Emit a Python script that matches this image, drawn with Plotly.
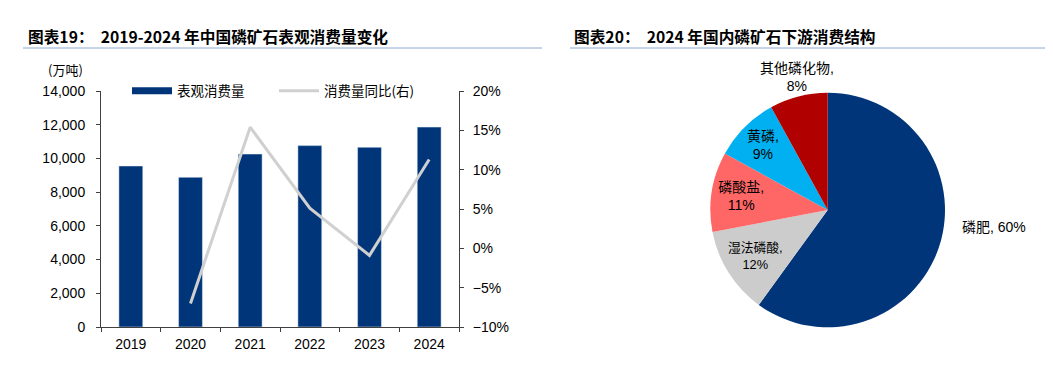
import plotly.graph_objects as go

years = ["2019", "2020", "2021", "2022", "2023", "2024"]
consumption = [9550, 8880, 10260, 10760, 10660, 11860]
yoy_years = ["2020", "2021", "2022", "2023", "2024"]
yoy = [-7.0, 15.4, 5.1, -0.9, 11.3]

pie_labels = ["磷肥", "湿法磷酸", "磷酸盐", "黄磷", "其他磷化物"]
pie_values = [60, 12, 11, 9, 8]
pie_colors = ["#003679", "#cccccc", "#ff6666", "#00b0f0", "#b00000"]

FONT = "Liberation Sans, Arial, Noto Sans CJK SC"
CJK = "Noto Sans CJK SC"

# the page draws the figure offset by (8, 15), 1053 wide and 350 tall
OX, OY, PW, PH = 8, 15, 1053, 350
def fx(px):
    return (px - OX) / PW
def fy(py):
    return 1 - (py - OY) / PH

fig = go.Figure()
fig.add_trace(go.Bar(x=years, y=consumption, name="表观消费量", marker_color="#003679",
                     xaxis="x", yaxis="y", showlegend=False))
fig.add_trace(go.Scatter(x=[None], y=[None], name="表观消费量", mode="lines",
                         line=dict(color="#003679", width=7), xaxis="x", yaxis="y"))
fig.add_trace(go.Scatter(x=yoy_years, y=yoy, name="消费量同比(右)", mode="lines",
                         line=dict(color="#d0d0d0", width=3), xaxis="x", yaxis="y2"))
fig.add_trace(go.Pie(labels=pie_labels, values=pie_values, sort=False, direction="clockwise",
                     rotation=0, marker=dict(colors=pie_colors, line=dict(width=0)),
                     texttemplate=[""] + ["%{label},<br>%{percent:.0%}"] * 3 + [""],
                     textposition="inside",
                     insidetextorientation="horizontal",
                     textfont=dict(family=FONT, size=14, color="#000000"),
                     domain=dict(x=[fx(710.4), fx(945.0)], y=[fy(326.3), fy(91.7)]),
                     showlegend=False, hoverinfo="label+percent"))

fig.update_layout(
    width=1053, height=366, margin=dict(l=0, r=0, t=0, b=0),
    paper_bgcolor="white", plot_bgcolor="white",
    font=dict(family=FONT, size=14, color="#000000"),
    bargap=0.6,
    xaxis=dict(domain=[fx(101), fx(459)], showline=True, linecolor="#404040", linewidth=1,
               ticks="outside", tickson="boundaries", ticklen=4, tickcolor="#404040",
               showgrid=False, anchor="y", tickfont=dict(size=14), ticklabelstandoff=4),
    yaxis=dict(domain=[fy(326), fy(90)], range=[0, 14000], dtick=2000, tickformat=",",
               showline=True, linecolor="#404040", linewidth=1, ticks="outside", ticklen=4,
               tickcolor="#404040", showgrid=False, zeroline=False, anchor="x",
               tickfont=dict(size=14), ticklabelstandoff=8),
    yaxis2=dict(overlaying="y", side="right", anchor="x", range=[-10, 20], dtick=5,
                ticksuffix="%", showline=True, linecolor="#404040", linewidth=1,
                ticks="outside", ticklen=4, tickcolor="#404040", showgrid=False,
                zeroline=False, tickfont=dict(size=14), ticklabelstandoff=6),
    legend=dict(orientation="h", x=fx(127), y=fy(90), xanchor="left", yanchor="middle",
                bgcolor="rgba(0,0,0,0)", font=dict(family=CJK, size=13.5),
                itemwidth=40, entrywidth=92, tracegroupgap=0),
)

annotations = [
    dict(text="<b>图表19：  2019-2024 年中国磷矿石表观消费量变化</b>", x=fx(26), y=fy(35),
         xanchor="left", yanchor="middle", font=dict(family=CJK, size=15.7, color="#000000")),
    dict(text="<b>图表20：  2024 年国内磷矿石下游消费结构</b>", x=fx(572), y=fy(35),
         xanchor="left", yanchor="middle", font=dict(family=CJK, size=15.7, color="#000000")),
    dict(text="(万吨)", x=fx(46), y=fy(69), xanchor="left", yanchor="middle",
         font=dict(family=CJK, size=13, color="#000000")),
    dict(text=f"{pie_labels[4]},<br>{pie_values[4]}%", x=fx(797), y=fy(76),
         xanchor="center", yanchor="middle", font=dict(family=FONT, size=14, color="#000000")),
    dict(text=f"{pie_labels[0]}, {pie_values[0]}%", x=fx(960), y=fy(226),
         xanchor="left", yanchor="middle", font=dict(family=FONT, size=14, color="#000000")),
]
for a in annotations:
    a.update(xref="paper", yref="paper", showarrow=False)
fig.update_layout(annotations=annotations)

fig.update_layout(shapes=[
    dict(type="line", xref="paper", yref="paper", x0=fx(23), x1=fx(542), y0=fy(47),
         y1=fy(47), line=dict(color="#8eaacc", width=1)),
    dict(type="line", xref="paper", yref="paper", x0=fx(570), x1=1.0, y0=fy(47),
         y1=fy(47), line=dict(color="#8eaacc", width=1)),
])

fig.write_html("out.html")
